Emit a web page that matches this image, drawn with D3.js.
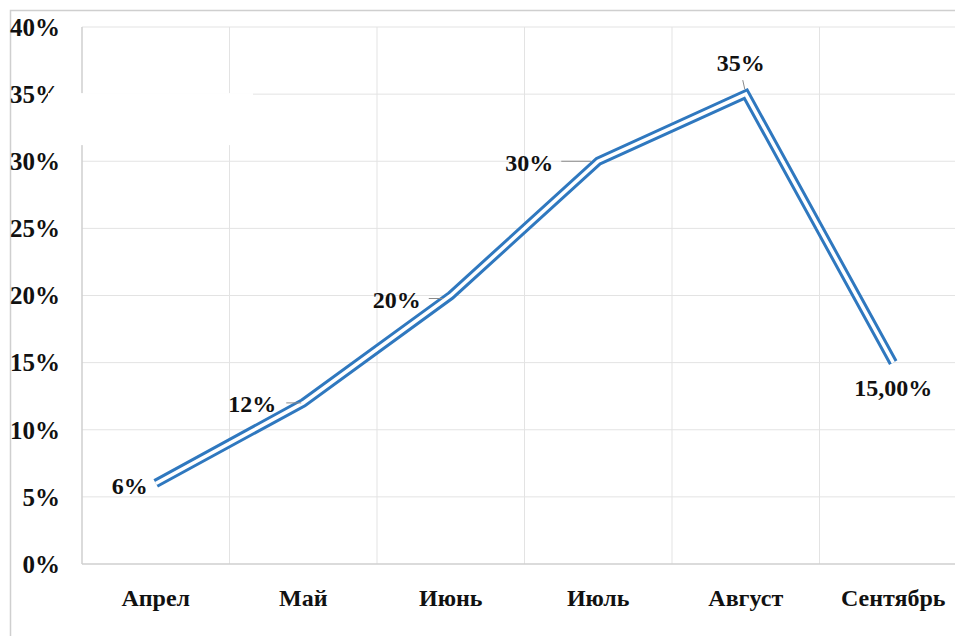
<!DOCTYPE html>
<html>
<head>
<meta charset="utf-8">
<script src="https://cdn.jsdelivr.net/npm/d3@7"></script>
<style>
  body { margin: 0; background: #fff; }
  svg text { font-family: "Liberation Serif", "DejaVu Serif", "Noto Serif", serif; font-weight: bold; fill: #111; }
</style>
</head>
<body>
<div id="chart"></div>
<script>
const months = ["Апрел", "Май", "Июнь", "Июль", "Август", "Сентябрь"];
const values = [6, 12, 20, 30, 35, 15];
const pointLabels = ["6%", "12%", "20%", "30%", "35%", "15,00%"];
const yTicks = [0, 5, 10, 15, 20, 25, 30, 35, 40];

const width = 955, height = 636;
const plotLeft = 82, plotTop = 27, plotBottom = 564, plotRight = 967;

const svg = d3.select("#chart")
  .append("svg")
  .attr("width", width)
  .attr("height", height);

// outer frame
svg.append("rect")
  .attr("x", 10.5).attr("y", 10.5)
  .attr("width", 1000).attr("height", 1000)
  .attr("fill", "none")
  .attr("stroke", "#cfcfcf")
  .attr("stroke-width", 1.5);

const x = d3.scaleBand()
  .domain(months)
  .range([plotLeft, plotRight]);

const y = d3.scaleLinear()
  .domain([0, 40])
  .range([plotBottom, plotTop]);

// horizontal grid
svg.append("g")
  .selectAll("line")
  .data(yTicks.slice(1))
  .join("line")
  .attr("x1", plotLeft).attr("x2", plotRight)
  .attr("y1", d => y(d)).attr("y2", d => y(d))
  .attr("stroke", "#e3e3e3")
  .attr("stroke-width", 1);

// vertical grid at category boundaries
svg.append("g")
  .selectAll("line")
  .data(months.slice(1))
  .join("line")
  .attr("x1", d => x(d)).attr("x2", d => x(d))
  .attr("y1", plotTop).attr("y2", plotBottom)
  .attr("stroke", "#e3e3e3")
  .attr("stroke-width", 1);

// axes lines
svg.append("line")
  .attr("x1", plotLeft).attr("x2", plotLeft)
  .attr("y1", plotTop).attr("y2", plotBottom)
  .attr("stroke", "#cfcfcf").attr("stroke-width", 1.5);
svg.append("line")
  .attr("x1", plotLeft).attr("x2", plotRight)
  .attr("y1", plotBottom).attr("y2", plotBottom)
  .attr("stroke", "#cfcfcf").attr("stroke-width", 1.5);

// y tick labels
svg.append("g")
  .selectAll("text")
  .data(yTicks)
  .join("text")
  .attr("x", 60)
  .attr("y", d => y(d))
  .attr("dy", "0.35em")
  .attr("text-anchor", "end")
  .attr("font-size", 25)
  .text(d => d + "%");

// x labels
svg.append("g")
  .selectAll("text")
  .data(months)
  .join("text")
  .attr("x", d => x(d) + x.bandwidth() / 2)
  .attr("y", 606)
  .attr("text-anchor", "middle")
  .attr("font-size", 24)
  .text(d => d);

// double line: wide blue with white core
const pts = months.map((m, i) => [x(m) + x.bandwidth() / 2, y(values[i])]);
const line = d3.line();
svg.append("path")
  .attr("d", line(pts))
  .attr("fill", "none")
  .attr("stroke", "#2f78bf")
  .attr("stroke-width", 9.5)
  .attr("stroke-linejoin", "miter");
svg.append("path")
  .attr("d", line(pts))
  .attr("fill", "none")
  .attr("stroke", "#fff")
  .attr("stroke-width", 3.5)
  .attr("stroke-linejoin", "miter");

// data labels with leader lines
const labelPos = [
  { dx: -8, dy: 2, anchor: "end", lead: null },
  { dx: -27, dy: 1, anchor: "end", lead: [-17, 0, -2, 0] },
  { dx: -30, dy: 4, anchor: "end", lead: [-22, 3, -8, 3] },
  { dx: -45, dy: 1, anchor: "end", lead: [-37, 0, -7, 0] },
  { dx: -5, dy: -32, anchor: "middle", lead: [-3, -14, -1, -5] },
  { dx: 0, dy: 25, anchor: "middle", lead: null }
];

pts.forEach((p, i) => {
  const lp = labelPos[i];
  if (lp.lead) {
    svg.append("line")
      .attr("x1", p[0] + lp.lead[0]).attr("y1", p[1] + lp.lead[1])
      .attr("x2", p[0] + lp.lead[2]).attr("y2", p[1] + lp.lead[3])
      .attr("stroke", "#8a8a8a").attr("stroke-width", 1);
  }
  svg.append("text")
    .attr("x", p[0] + lp.dx)
    .attr("y", p[1] + lp.dy)
    .attr("dy", "0.35em")
    .attr("text-anchor", lp.anchor)
    .attr("font-size", 24)
    .text(pointLabels[i]);
});

// white patch over the 35% row, as in the scan
svg.append("rect")
  .attr("x", 48).attr("y", y(35) - 1)
  .attr("width", 205).attr("height", 52)
  .attr("fill", "#fff");
</script>
</body>
</html>
